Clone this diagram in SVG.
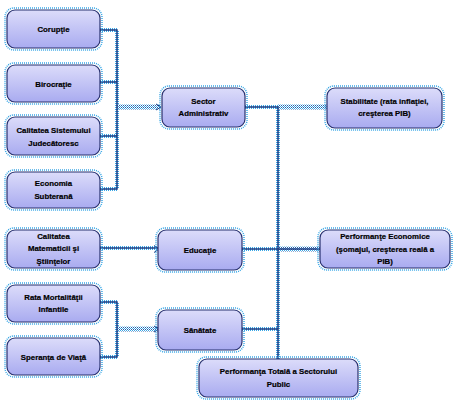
<svg xmlns="http://www.w3.org/2000/svg" width="457" height="407" viewBox="0 0 457 407">
<defs>
<linearGradient id="g" x1="0" y1="0" x2="0" y2="1">
<stop offset="0" stop-color="#dcdcfa"/>
<stop offset="1" stop-color="#a9abf0"/>
</linearGradient>
<pattern id="chk" width="2" height="2" patternUnits="userSpaceOnUse">
<rect width="2" height="2" fill="#ffffff"/>
<rect width="1" height="1" fill="#3aa7e6"/>
<rect x="1" y="1" width="1" height="1" fill="#2a5fa8"/>
</pattern>
</defs>
<style>
.halo{fill:none;stroke:#3aa7e6;stroke-width:1.5;stroke-dasharray:1 1}
.box{fill:url(#g);stroke:#27306e;stroke-width:1.2}
.t{font-family:"Liberation Sans",Arial,sans-serif;font-size:7.8px;font-weight:bold;fill:#000;text-anchor:middle;stroke:#000;stroke-width:0.2}
.ln{fill:none;stroke:#1d3c82;stroke-width:1.5}
.lh{fill:none;stroke:#3aa7e6;stroke-width:4;stroke-dasharray:1 1}
.ar{fill:none;stroke:url(#chk);stroke-width:5}
</style>
<g id="connectors">
<path class="lh" d="M100,30 H117 V189 H100 M100,82 H117 M100,136 H117 M100,248 H158 M100,302 H117 V357 H100 M245,107 H278 V359 M242,249 H278 M242,329 H278"/>
<path class="ar" d="M117,107 H160 M117,329 H158 M278,107 H327 M278,249 H320"/>
<path class="ln" d="M100,30 H117 V189 H100 M100,82 H117 M100,136 H117 M100,248 H158 M100,302 H117 V357 H100 M245,107 H278 V359 M242,249 H320 M242,329 H278"/>
<path d="M156,104 L161,107 L156,110 M154,245.5 L159,249 L154,252.5 M154,326 L159,329 L154,332" fill="none" stroke="#1d3c82" stroke-width="1"/>
</g>
<g id="n1"><rect class="halo" x="5" y="8" width="97" height="42" rx="9"/><rect class="box" x="7" y="10" width="93" height="38" rx="8"/><text class="t" x="53.5" y="32">Corupţie</text></g>
<g id="n2"><rect class="halo" x="5" y="63" width="97" height="41" rx="9"/><rect class="box" x="7" y="65" width="93" height="37" rx="8"/><text class="t" x="53.5" y="86.5">Birocraţie</text></g>
<g id="n3"><rect class="halo" x="5" y="115" width="97" height="42" rx="9"/><rect class="box" x="7" y="117" width="93" height="38" rx="8"/><text class="t" x="53.5" y="133">Calitatea Sistemului</text><text class="t" x="53.5" y="145.5">Judecătoresc</text></g>
<g id="n4"><rect class="halo" x="5" y="170" width="97" height="40" rx="9"/><rect class="box" x="7" y="172" width="93" height="36" rx="8"/><text class="t" x="53.5" y="186">Economia</text><text class="t" x="53.5" y="198.5">Subterană</text></g>
<g id="n5"><rect class="halo" x="5" y="228" width="97" height="42" rx="9"/><rect class="box" x="7" y="230" width="93" height="38" rx="8"/><text class="t" x="53.5" y="238.5">Calitatea</text><text class="t" x="53.5" y="251">Matematicii şi</text><text class="t" x="53.5" y="263.5">Ştiinţelor</text></g>
<g id="n6"><rect class="halo" x="5" y="283" width="97" height="41" rx="9"/><rect class="box" x="7" y="285" width="93" height="37" rx="8"/><text class="t" x="53.5" y="299.5">Rata Mortalităţii</text><text class="t" x="53.5" y="311.5">Infantile</text></g>
<g id="n7"><rect class="halo" x="5" y="336" width="97" height="41" rx="9"/><rect class="box" x="7" y="338" width="93" height="37" rx="8"/><text class="t" x="53.5" y="359.5">Speranţa de Viaţă</text></g>
<g id="m1"><rect class="halo" x="160" y="86" width="87" height="43" rx="9"/><rect class="box" x="162" y="88" width="83" height="39" rx="8"/><text class="t" x="203.5" y="103.5">Sector</text><text class="t" x="203.5" y="116">Administrativ</text></g>
<g id="m2"><rect class="halo" x="156" y="228" width="88" height="44" rx="9"/><rect class="box" x="158" y="230" width="84" height="40" rx="8"/><text class="t" x="200" y="252.5">Educaţie</text></g>
<g id="m3"><rect class="halo" x="156" y="308" width="88" height="44" rx="9"/><rect class="box" x="158" y="310" width="84" height="40" rx="8"/><text class="t" x="200" y="332.5">Sănătate</text></g>
<g id="r1"><rect class="halo" x="325" y="86" width="119" height="44" rx="9"/><rect class="box" x="327" y="88" width="115" height="40" rx="8"/><text class="t" x="384.5" y="103.5">Stabilitate (rata inflaţiei,</text><text class="t" x="384.5" y="116">creşterea PIB)</text></g>
<g id="r2"><rect class="halo" x="318" y="228" width="134" height="42" rx="9"/><rect class="box" x="320" y="230" width="130" height="38" rx="8"/><text class="t" x="385" y="239">Performanţe Economice</text><text class="t" x="385" y="251.5">(şomajul, creşterea reală a</text><text class="t" x="385" y="264">PIB)</text></g>
<g id="r3"><rect class="halo" x="197" y="357" width="163" height="42" rx="9"/><rect class="box" x="199" y="359" width="159" height="38" rx="8"/><text class="t" x="278.5" y="374">Performanţa Totală a Sectorului</text><text class="t" x="278.5" y="386.5">Public</text></g>
</svg>
